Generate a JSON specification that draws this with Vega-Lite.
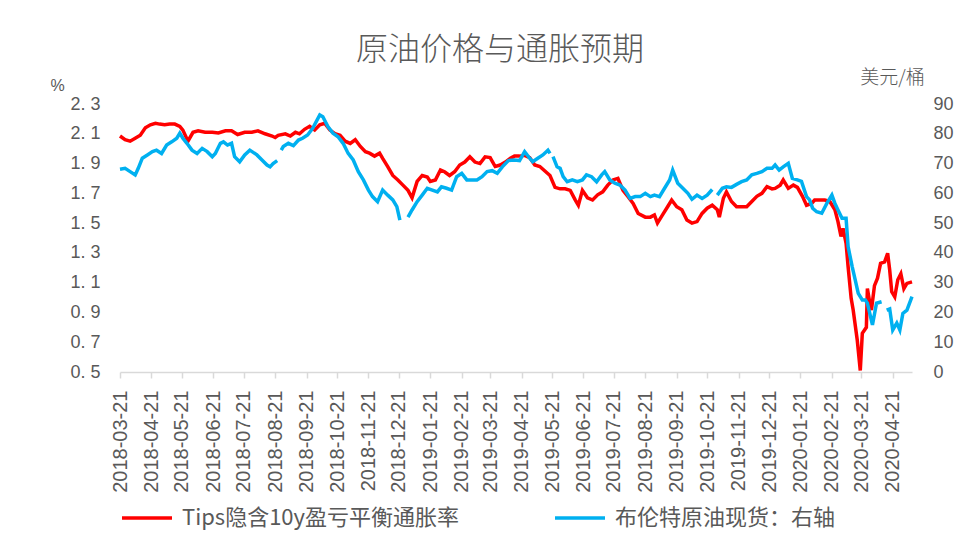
{
  "$schema": "https://vega.github.io/schema/vega-lite/v6.json",
  "width": 792,
  "height": 268,
  "autosize": {"type": "none"},
  "padding": {"left": 120, "top": 104, "right": 65, "bottom": 174},
  "background": "white",
  "title": {"text": "原油价格与通胀预期", "font": "Noto Sans CJK SC", "fontSize": 32, "fontWeight": 300, "color": "#595959", "anchor": "middle", "dx": -16, "offset": 1},
  "config": {
    "view": {"stroke": null},
    "axisX": {"labelOverlap": false},
    "legend": {"orient": "none", "legendX": 0, "legendY": 387, "direction": "horizontal", "symbolType": "stroke", "symbolSize": 2500, "symbolStrokeWidth": 3.5, "labelFont": "Noto Sans CJK SC", "labelFontSize": 22, "labelColor": "#595959", "labelLimit": 500, "labelOffset": 8, "columnPadding": 88, "title": null}
  },
  "datasets": {
    "tips": [
      {"date": "2018-03-21", "value": 2.085}, {"date": "2018-03-26", "value": 2.06}, {"date": "2018-03-31", "value": 2.05}, {"date": "2018-04-05", "value": 2.07}, {"date": "2018-04-10", "value": 2.09}, {"date": "2018-04-15", "value": 2.14}, {"date": "2018-04-20", "value": 2.16}, {"date": "2018-04-25", "value": 2.17}, {"date": "2018-04-29", "value": 2.165}, {"date": "2018-05-04", "value": 2.16}, {"date": "2018-05-09", "value": 2.165}, {"date": "2018-05-14", "value": 2.165}, {"date": "2018-05-19", "value": 2.15}, {"date": "2018-05-22", "value": 2.125}, {"date": "2018-05-27", "value": 2.05}, {"date": "2018-06-01", "value": 2.11}, {"date": "2018-06-06", "value": 2.12}, {"date": "2018-06-13", "value": 2.11}, {"date": "2018-06-20", "value": 2.11}, {"date": "2018-06-26", "value": 2.105}, {"date": "2018-07-03", "value": 2.12}, {"date": "2018-07-09", "value": 2.12}, {"date": "2018-07-15", "value": 2.095}, {"date": "2018-07-22", "value": 2.11}, {"date": "2018-07-29", "value": 2.11}, {"date": "2018-08-04", "value": 2.12}, {"date": "2018-08-11", "value": 2.10}, {"date": "2018-08-18", "value": 2.085}, {"date": "2018-08-21", "value": 2.075}, {"date": "2018-08-24", "value": 2.09}, {"date": "2018-08-31", "value": 2.10}, {"date": "2018-09-05", "value": 2.085}, {"date": "2018-09-10", "value": 2.11}, {"date": "2018-09-14", "value": 2.10}, {"date": "2018-09-19", "value": 2.13}, {"date": "2018-09-24", "value": 2.15}, {"date": "2018-09-29", "value": 2.125}, {"date": "2018-10-04", "value": 2.16}, {"date": "2018-10-09", "value": 2.17}, {"date": "2018-10-14", "value": 2.125}, {"date": "2018-10-19", "value": 2.10}, {"date": "2018-10-24", "value": 2.09}, {"date": "2018-10-29", "value": 2.05}, {"date": "2018-11-03", "value": 2.035}, {"date": "2018-11-08", "value": 2.06}, {"date": "2018-11-13", "value": 2.015}, {"date": "2018-11-18", "value": 1.98}, {"date": "2018-11-22", "value": 1.97}, {"date": "2018-11-27", "value": 1.95}, {"date": "2018-12-02", "value": 1.97}, {"date": "2018-12-05", "value": 1.935}, {"date": "2018-12-10", "value": 1.88}, {"date": "2018-12-15", "value": 1.82}, {"date": "2018-12-20", "value": 1.79}, {"date": "2018-12-25", "value": 1.755}, {"date": "2018-12-30", "value": 1.72}, {"date": "2019-01-03", "value": 1.67}, {"date": "2019-01-08", "value": 1.78}, {"date": "2019-01-13", "value": 1.82}, {"date": "2019-01-18", "value": 1.81}, {"date": "2019-01-21", "value": 1.78}, {"date": "2019-01-26", "value": 1.79}, {"date": "2019-01-31", "value": 1.857}, {"date": "2019-02-04", "value": 1.845}, {"date": "2019-02-09", "value": 1.82}, {"date": "2019-02-14", "value": 1.845}, {"date": "2019-02-19", "value": 1.89}, {"date": "2019-02-24", "value": 1.91}, {"date": "2019-03-01", "value": 1.945}, {"date": "2019-03-06", "value": 1.91}, {"date": "2019-03-11", "value": 1.90}, {"date": "2019-03-16", "value": 1.945}, {"date": "2019-03-21", "value": 1.94}, {"date": "2019-03-26", "value": 1.88}, {"date": "2019-03-31", "value": 1.89}, {"date": "2019-04-05", "value": 1.91}, {"date": "2019-04-10", "value": 1.935}, {"date": "2019-04-14", "value": 1.95}, {"date": "2019-04-19", "value": 1.95}, {"date": "2019-04-24", "value": 1.955}, {"date": "2019-04-29", "value": 1.94}, {"date": "2019-05-04", "value": 1.89}, {"date": "2019-05-09", "value": 1.88}, {"date": "2019-05-14", "value": 1.85}, {"date": "2019-05-19", "value": 1.82}, {"date": "2019-05-24", "value": 1.74}, {"date": "2019-05-29", "value": 1.73}, {"date": "2019-06-03", "value": 1.73}, {"date": "2019-06-08", "value": 1.72}, {"date": "2019-06-13", "value": 1.655}, {"date": "2019-06-16", "value": 1.62}, {"date": "2019-06-20", "value": 1.72}, {"date": "2019-06-25", "value": 1.67}, {"date": "2019-06-30", "value": 1.655}, {"date": "2019-07-05", "value": 1.69}, {"date": "2019-07-10", "value": 1.71}, {"date": "2019-07-15", "value": 1.755}, {"date": "2019-07-20", "value": 1.79}, {"date": "2019-07-25", "value": 1.80}, {"date": "2019-07-30", "value": 1.72}, {"date": "2019-08-04", "value": 1.677}, {"date": "2019-08-09", "value": 1.632}, {"date": "2019-08-14", "value": 1.565}, {"date": "2019-08-21", "value": 1.54}, {"date": "2019-08-26", "value": 1.54}, {"date": "2019-08-30", "value": 1.555}, {"date": "2019-09-02", "value": 1.50}, {"date": "2019-09-07", "value": 1.555}, {"date": "2019-09-12", "value": 1.61}, {"date": "2019-09-16", "value": 1.655}, {"date": "2019-09-21", "value": 1.61}, {"date": "2019-09-26", "value": 1.59}, {"date": "2019-10-01", "value": 1.52}, {"date": "2019-10-06", "value": 1.50}, {"date": "2019-10-11", "value": 1.51}, {"date": "2019-10-16", "value": 1.565}, {"date": "2019-10-21", "value": 1.60}, {"date": "2019-10-26", "value": 1.62}, {"date": "2019-10-31", "value": 1.59}, {"date": "2019-11-02", "value": 1.54}, {"date": "2019-11-06", "value": 1.667}, {"date": "2019-11-09", "value": 1.71}, {"date": "2019-11-14", "value": 1.645}, {"date": "2019-11-19", "value": 1.61}, {"date": "2019-11-24", "value": 1.61}, {"date": "2019-11-29", "value": 1.61}, {"date": "2019-12-04", "value": 1.645}, {"date": "2019-12-09", "value": 1.68}, {"date": "2019-12-14", "value": 1.70}, {"date": "2019-12-19", "value": 1.745}, {"date": "2019-12-24", "value": 1.73}, {"date": "2019-12-27", "value": 1.733}, {"date": "2020-01-01", "value": 1.755}, {"date": "2020-01-04", "value": 1.79}, {"date": "2020-01-09", "value": 1.733}, {"date": "2020-01-14", "value": 1.755}, {"date": "2020-01-18", "value": 1.74}, {"date": "2020-01-23", "value": 1.68}, {"date": "2020-01-27", "value": 1.62}, {"date": "2020-02-01", "value": 1.632}, {"date": "2020-02-04", "value": 1.655}, {"date": "2020-02-09", "value": 1.655}, {"date": "2020-02-14", "value": 1.655}, {"date": "2020-02-19", "value": 1.645}, {"date": "2020-02-24", "value": 1.59}, {"date": "2020-02-27", "value": 1.51}, {"date": "2020-03-01", "value": 1.41}, {"date": "2020-03-03", "value": 1.465}, {"date": "2020-03-06", "value": 1.364}, {"date": "2020-03-08", "value": 1.207}, {"date": "2020-03-11", "value": 0.995}, {"date": "2020-03-13", "value": 0.916}, {"date": "2020-03-17", "value": 0.715}, {"date": "2020-03-20", "value": 0.51}, {"date": "2020-03-22", "value": 0.76}, {"date": "2020-03-26", "value": 0.80}, {"date": "2020-03-27", "value": 1.06}, {"date": "2020-03-29", "value": 0.98}, {"date": "2020-03-31", "value": 0.916}, {"date": "2020-04-03", "value": 1.08}, {"date": "2020-04-06", "value": 1.13}, {"date": "2020-04-09", "value": 1.23}, {"date": "2020-04-13", "value": 1.24}, {"date": "2020-04-16", "value": 1.297}, {"date": "2020-04-18", "value": 1.185}, {"date": "2020-04-20", "value": 1.04}, {"date": "2020-04-23", "value": 1.005}, {"date": "2020-04-26", "value": 1.12}, {"date": "2020-04-29", "value": 1.16}, {"date": "2020-05-02", "value": 1.06}, {"date": "2020-05-05", "value": 1.095}, {"date": "2020-05-10", "value": 1.105}
    ],
    "brent": [
      {"date": "2018-03-21", "value": 68.1}, {"date": "2018-03-26", "value": 68.4}, {"date": "2018-03-31", "value": 67.3}, {"date": "2018-04-05", "value": 66.2}, {"date": "2018-04-08", "value": 68.4}, {"date": "2018-04-12", "value": 71.8}, {"date": "2018-04-17", "value": 72.9}, {"date": "2018-04-22", "value": 74.0}, {"date": "2018-04-26", "value": 74.5}, {"date": "2018-05-01", "value": 73.4}, {"date": "2018-05-06", "value": 76.2}, {"date": "2018-05-11", "value": 77.3}, {"date": "2018-05-16", "value": 78.5}, {"date": "2018-05-19", "value": 80.2}, {"date": "2018-05-22", "value": 78.5}, {"date": "2018-05-26", "value": 76.8}, {"date": "2018-05-31", "value": 74.5}, {"date": "2018-06-05", "value": 73.4}, {"date": "2018-06-10", "value": 75.1}, {"date": "2018-06-15", "value": 74.0}, {"date": "2018-06-20", "value": 72.3}, {"date": "2018-06-23", "value": 73.4}, {"date": "2018-06-28", "value": 76.8}, {"date": "2018-07-01", "value": 77.3}, {"date": "2018-07-05", "value": 76.2}, {"date": "2018-07-09", "value": 76.8}, {"date": "2018-07-12", "value": 72.3}, {"date": "2018-07-17", "value": 70.6}, {"date": "2018-07-22", "value": 72.9}, {"date": "2018-07-27", "value": 74.5}, {"date": "2018-08-03", "value": 72.9}, {"date": "2018-08-08", "value": 71.2}, {"date": "2018-08-13", "value": 69.5}, {"date": "2018-08-16", "value": 68.9}, {"date": "2018-08-19", "value": 70.0}, {"date": "2018-08-23", "value": 71.0}, {"date": "2018-08-25", "value": null}, {"date": "2018-08-27", "value": 74.5}, {"date": "2018-08-29", "value": 75.7}, {"date": "2018-09-03", "value": 76.8}, {"date": "2018-09-08", "value": 76.0}, {"date": "2018-09-13", "value": 77.9}, {"date": "2018-09-17", "value": 78.5}, {"date": "2018-09-22", "value": 79.6}, {"date": "2018-09-27", "value": 81.8}, {"date": "2018-10-04", "value": 86.3}, {"date": "2018-10-07", "value": 85.7}, {"date": "2018-10-12", "value": 82.4}, {"date": "2018-10-17", "value": 80.2}, {"date": "2018-10-22", "value": 79.0}, {"date": "2018-10-27", "value": 76.8}, {"date": "2018-11-01", "value": 73.4}, {"date": "2018-11-06", "value": 71.2}, {"date": "2018-11-11", "value": 67.3}, {"date": "2018-11-16", "value": 64.5}, {"date": "2018-11-21", "value": 61.1}, {"date": "2018-11-25", "value": 58.9}, {"date": "2018-11-30", "value": 57.2}, {"date": "2018-12-05", "value": 61.1}, {"date": "2018-12-10", "value": 59.4}, {"date": "2018-12-15", "value": 57.8}, {"date": "2018-12-19", "value": 55.5}, {"date": "2018-12-22", "value": 51.0}, {"date": "2018-12-24", "value": null}, {"date": "2018-12-30", "value": 52.0}, {"date": "2019-01-03", "value": 54.4}, {"date": "2019-01-08", "value": 57.2}, {"date": "2019-01-13", "value": 59.4}, {"date": "2019-01-18", "value": 61.7}, {"date": "2019-01-23", "value": 61.1}, {"date": "2019-01-28", "value": 60.5}, {"date": "2019-02-01", "value": 62.2}, {"date": "2019-02-06", "value": 61.7}, {"date": "2019-02-11", "value": 61.1}, {"date": "2019-02-16", "value": 65.6}, {"date": "2019-02-21", "value": 66.7}, {"date": "2019-02-26", "value": 64.5}, {"date": "2019-03-03", "value": 64.5}, {"date": "2019-03-08", "value": 64.5}, {"date": "2019-03-13", "value": 65.6}, {"date": "2019-03-18", "value": 67.3}, {"date": "2019-03-23", "value": 67.6}, {"date": "2019-03-28", "value": 66.7}, {"date": "2019-04-02", "value": 68.9}, {"date": "2019-04-08", "value": 71.0}, {"date": "2019-04-14", "value": 71.2}, {"date": "2019-04-19", "value": 71.0}, {"date": "2019-04-24", "value": 74.0}, {"date": "2019-04-29", "value": 71.8}, {"date": "2019-05-02", "value": 70.6}, {"date": "2019-05-07", "value": 71.8}, {"date": "2019-05-12", "value": 72.9}, {"date": "2019-05-17", "value": 74.5}, {"date": "2019-05-19", "value": 73.4}, {"date": "2019-05-20", "value": null}, {"date": "2019-05-22", "value": 72.3}, {"date": "2019-05-26", "value": 68.9}, {"date": "2019-05-29", "value": 68.4}, {"date": "2019-06-01", "value": 65.6}, {"date": "2019-06-05", "value": 63.9}, {"date": "2019-06-10", "value": 64.5}, {"date": "2019-06-15", "value": 63.9}, {"date": "2019-06-20", "value": 64.5}, {"date": "2019-06-24", "value": 66.2}, {"date": "2019-06-29", "value": 65.6}, {"date": "2019-07-04", "value": 63.9}, {"date": "2019-07-09", "value": 66.2}, {"date": "2019-07-12", "value": 67.3}, {"date": "2019-07-17", "value": 64.5}, {"date": "2019-07-22", "value": 63.4}, {"date": "2019-07-27", "value": 62.8}, {"date": "2019-08-01", "value": 61.1}, {"date": "2019-08-06", "value": 58.3}, {"date": "2019-08-11", "value": 58.9}, {"date": "2019-08-16", "value": 58.9}, {"date": "2019-08-21", "value": 60.0}, {"date": "2019-08-26", "value": 58.9}, {"date": "2019-08-30", "value": 59.4}, {"date": "2019-09-04", "value": 58.9}, {"date": "2019-09-09", "value": 61.7}, {"date": "2019-09-14", "value": 64.5}, {"date": "2019-09-17", "value": 67.8}, {"date": "2019-09-22", "value": 63.4}, {"date": "2019-09-27", "value": 61.7}, {"date": "2019-10-02", "value": 60.0}, {"date": "2019-10-06", "value": 58.0}, {"date": "2019-10-11", "value": 59.4}, {"date": "2019-10-16", "value": 58.3}, {"date": "2019-10-21", "value": 59.4}, {"date": "2019-10-26", "value": 61.3}, {"date": "2019-10-28", "value": null}, {"date": "2019-10-31", "value": 59.4}, {"date": "2019-11-05", "value": 61.7}, {"date": "2019-11-09", "value": 62.2}, {"date": "2019-11-14", "value": 62.0}, {"date": "2019-11-19", "value": 63.0}, {"date": "2019-11-24", "value": 63.9}, {"date": "2019-11-29", "value": 64.5}, {"date": "2019-12-04", "value": 66.2}, {"date": "2019-12-09", "value": 66.7}, {"date": "2019-12-14", "value": 67.3}, {"date": "2019-12-19", "value": 68.4}, {"date": "2019-12-24", "value": 68.4}, {"date": "2019-12-27", "value": 69.5}, {"date": "2019-12-31", "value": 67.8}, {"date": "2020-01-04", "value": 68.9}, {"date": "2020-01-09", "value": 70.1}, {"date": "2020-01-13", "value": 65.0}, {"date": "2020-01-18", "value": 64.5}, {"date": "2020-01-22", "value": 64.0}, {"date": "2020-01-27", "value": 58.9}, {"date": "2020-01-30", "value": 57.8}, {"date": "2020-02-02", "value": 55.0}, {"date": "2020-02-06", "value": 53.8}, {"date": "2020-02-11", "value": 53.3}, {"date": "2020-02-16", "value": 56.6}, {"date": "2020-02-21", "value": 59.4}, {"date": "2020-02-24", "value": 56.6}, {"date": "2020-02-27", "value": 54.4}, {"date": "2020-03-02", "value": 51.6}, {"date": "2020-03-06", "value": 51.6}, {"date": "2020-03-08", "value": 42.1}, {"date": "2020-03-12", "value": 35.4}, {"date": "2020-03-15", "value": 30.9}, {"date": "2020-03-18", "value": 26.4}, {"date": "2020-03-22", "value": 24.2}, {"date": "2020-03-25", "value": 24.2}, {"date": "2020-03-27", "value": 23.1}, {"date": "2020-04-01", "value": 15.8}, {"date": "2020-04-05", "value": 23.1}, {"date": "2020-04-10", "value": 23.6}, {"date": "2020-04-12", "value": null}, {"date": "2020-04-15", "value": 20.8}, {"date": "2020-04-18", "value": 21.2}, {"date": "2020-04-21", "value": 14.1}, {"date": "2020-04-25", "value": 16.4}, {"date": "2020-04-28", "value": 14.1}, {"date": "2020-05-01", "value": 19.7}, {"date": "2020-05-05", "value": 20.8}, {"date": "2020-05-10", "value": 25.3}
    ]
  },
  "encoding": {
    "x": {
      "field": "date", "type": "temporal",
      "scale": {"type": "utc", "domain": [{"year": 2018, "month": 3, "date": 21, "utc": true}, {"year": 2020, "month": 5, "date": 10, "utc": true}]},
      "axis": {
        "title": null, "format": "%Y-%m-%d", "labelAngle": -90, "labelFont": "Liberation Sans", "labelFontSize": 20, "labelColor": "#595959", "labelPadding": 12, "labelOverlap": false, "labelFlush": false, "labelBound": false,
        "domainColor": "#d9d9d9", "domainWidth": 1.5, "tickColor": "#d9d9d9", "tickWidth": 1.5, "tickSize": 6, "grid": false,
        "values": [
          {"year": 2018, "month": 3, "date": 21, "utc": true}, {"year": 2018, "month": 4, "date": 21, "utc": true}, {"year": 2018, "month": 5, "date": 21, "utc": true}, {"year": 2018, "month": 6, "date": 21, "utc": true}, {"year": 2018, "month": 7, "date": 21, "utc": true}, {"year": 2018, "month": 8, "date": 21, "utc": true}, {"year": 2018, "month": 9, "date": 21, "utc": true}, {"year": 2018, "month": 10, "date": 21, "utc": true}, {"year": 2018, "month": 11, "date": 21, "utc": true}, {"year": 2018, "month": 12, "date": 21, "utc": true},
          {"year": 2019, "month": 1, "date": 21, "utc": true}, {"year": 2019, "month": 2, "date": 21, "utc": true}, {"year": 2019, "month": 3, "date": 21, "utc": true}, {"year": 2019, "month": 4, "date": 21, "utc": true}, {"year": 2019, "month": 5, "date": 21, "utc": true}, {"year": 2019, "month": 6, "date": 21, "utc": true}, {"year": 2019, "month": 7, "date": 21, "utc": true}, {"year": 2019, "month": 8, "date": 21, "utc": true}, {"year": 2019, "month": 9, "date": 21, "utc": true}, {"year": 2019, "month": 10, "date": 21, "utc": true}, {"year": 2019, "month": 11, "date": 21, "utc": true}, {"year": 2019, "month": 12, "date": 21, "utc": true},
          {"year": 2020, "month": 1, "date": 21, "utc": true}, {"year": 2020, "month": 2, "date": 21, "utc": true}, {"year": 2020, "month": 3, "date": 21, "utc": true}, {"year": 2020, "month": 4, "date": 21, "utc": true}
        ]
      }
    }
  },
  "layer": [
    {
      "data": {"name": "tips"},
      "mark": {"type": "line", "strokeWidth": 3.5, "invalid": "break-paths-show-domains"},
      "encoding": {
        "y": {
          "field": "value", "type": "quantitative",
          "scale": {"domain": [0.5, 2.3], "nice": false, "zero": false},
          "axis": {
            "title": "%", "titleAngle": 0, "titleX": -63, "titleY": -19, "titleAlign": "center", "titleBaseline": "middle", "titleFont": "Liberation Sans", "titleFontSize": 16, "titleFontWeight": "normal", "titleColor": "#595959",
            "values": [0.5, 0.7, 0.9, 1.1, 1.3, 1.5, 1.7, 1.9, 2.1, 2.3],
            "labelExpr": "replace(format(datum.value, '.1f'), '.', '. ')",
            "labelFont": "Liberation Sans", "labelFontSize": 18, "labelColor": "#595959", "labelPadding": 20,
            "domain": false, "ticks": false, "grid": false
          }
        },
        "color": {
          "datum": "Tips隐含10y盈亏平衡通胀率",
          "type": "nominal",
          "scale": {"domain": ["Tips隐含10y盈亏平衡通胀率", "布伦特原油现货：右轴"], "range": ["#ff0000", "#00b0f0"]}
        }
      }
    },
    {
      "data": {"name": "brent"},
      "mark": {"type": "line", "strokeWidth": 3.5, "invalid": "break-paths-show-domains"},
      "encoding": {
        "y": {
          "field": "value", "type": "quantitative",
          "scale": {"domain": [0, 90], "nice": false},
          "axis": {
            "orient": "right",
            "title": "美元/桶", "titleAngle": 0, "titleX": -20, "titleY": -27, "titleAlign": "center", "titleBaseline": "middle", "titleFont": "Noto Sans CJK SC", "titleFontSize": 19, "titleFontWeight": 300, "titleColor": "#595959",
            "values": [0, 10, 20, 30, 40, 50, 60, 70, 80, 90],
            "labelFont": "Liberation Sans", "labelFontSize": 18, "labelColor": "#595959", "labelPadding": 21,
            "domain": false, "ticks": false, "grid": false
          }
        },
        "color": {"datum": "布伦特原油现货：右轴", "type": "nominal"}
      }
    }
  ],
  "resolve": {"scale": {"y": "independent"}, "axis": {"y": "independent"}}
}
